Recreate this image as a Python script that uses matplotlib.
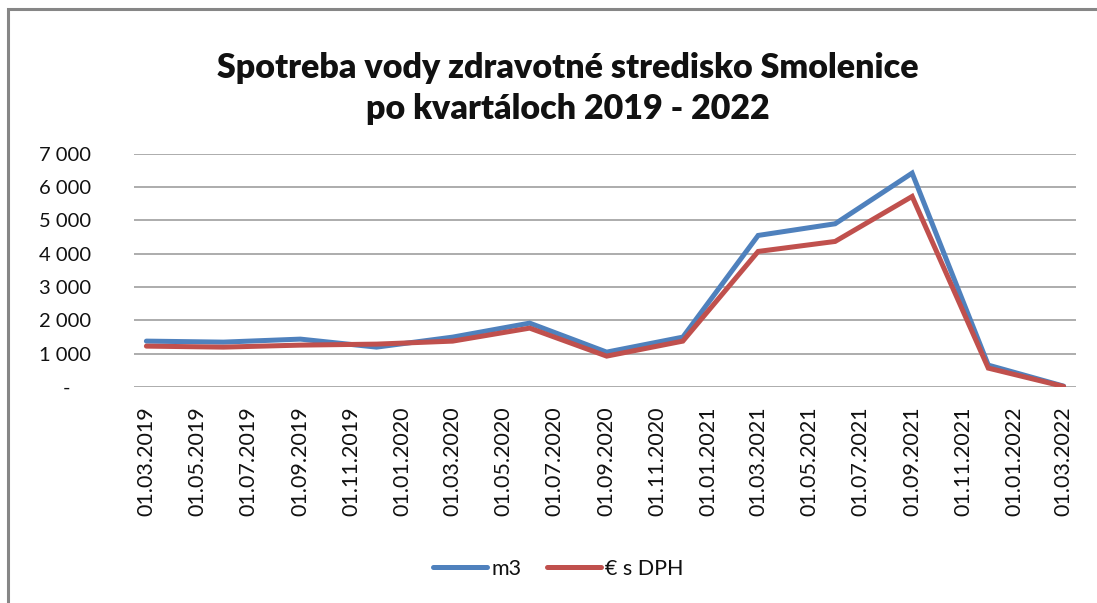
import matplotlib
matplotlib.use('Agg')
import matplotlib.pyplot as plt
import matplotlib.dates as mdates
from matplotlib.ticker import FuncFormatter
from matplotlib.patches import Rectangle
from datetime import datetime, timedelta

# kvartálne dáta
datumy = ['01.03.2019', '01.06.2019', '01.09.2019', '01.12.2019',
          '01.03.2020', '01.06.2020', '01.09.2020', '01.12.2020',
          '01.03.2021', '01.06.2021', '01.09.2021', '01.12.2021',
          '01.03.2022']
m3 = [1380, 1350, 1440, 1200, 1500, 1920, 1050, 1500, 4550, 4900, 6420, 660, 30]
eur_dph = [1230, 1200, 1260, 1290, 1380, 1770, 930, 1380, 4070, 4370, 5720, 570, 20]

nazov = 'Spotreba vody zdravotné stredisko Smolenice\npo kvartáloch 2019 - 2022'
legenda = ['m3', '€ s DPH']

plt.rcParams['font.family'] = ['Lato', 'DejaVu Sans']

x = [datetime.strptime(d, '%d.%m.%Y') for d in datumy]

fig = plt.figure(figsize=(10.97, 6.03), dpi=100)
ax = fig.add_axes([0.122, 0.358, 0.859, 0.387])

ax.plot(x, m3, color='#4F81BD', linewidth=3.6, label=legenda[0], solid_capstyle='round', solid_joinstyle='miter')
ax.plot(x, eur_dph, color='#C0504D', linewidth=3.6, label=legenda[1], solid_capstyle='round', solid_joinstyle='miter')

ax.set_xlim(x[0] - timedelta(days=15), x[-1] + timedelta(days=15))
ax.set_ylim(0, 7000)
ax.set_yticks(range(0, 7001, 1000))
ax.yaxis.set_major_formatter(FuncFormatter(
    lambda v, p: '-    ' if v == 0 else f'{int(v):,}'.replace(',', ' ')))

ax.xaxis.set_major_locator(mdates.MonthLocator(bymonth=[1, 3, 5, 7, 9, 11]))
ax.xaxis.set_major_formatter(mdates.DateFormatter('%d.%m.%Y'))
plt.setp(ax.get_xticklabels(), rotation=90, ha='center', va='top')

ax.tick_params(axis='y', length=0, pad=31, labelsize=14.5, labelcolor='#111111')
ax.tick_params(axis='x', length=0, pad=14, labelsize=15.5, labelcolor='#111111')

ax.grid(axis='y', color='#A6A6A6', linewidth=1.3)
ax.set_axisbelow(True)
for s in ax.spines.values():
    s.set_visible(False)

fig.text(0.518, 0.853, nazov, ha='center', va='center', fontsize=24.5,
         fontweight='heavy', linespacing=1.33, color='#111111')

fig.legend(loc='center', bbox_to_anchor=(0.509, 1 - 569 / 603), ncol=2,
           frameon=False, fontsize=15.5, handlelength=2.5, handletextpad=0.2,
           columnspacing=1.2, labelcolor='#111111')

# rámček grafu (horný a ľavý okraj)
fig.patches.append(Rectangle((8 / 1097, -0.1), 1.2, 1 - 9 / 603 + 0.1,
                             transform=fig.transFigure, fill=False,
                             edgecolor='#868686', linewidth=2.2))

fig.savefig('out.png', dpi=100)
